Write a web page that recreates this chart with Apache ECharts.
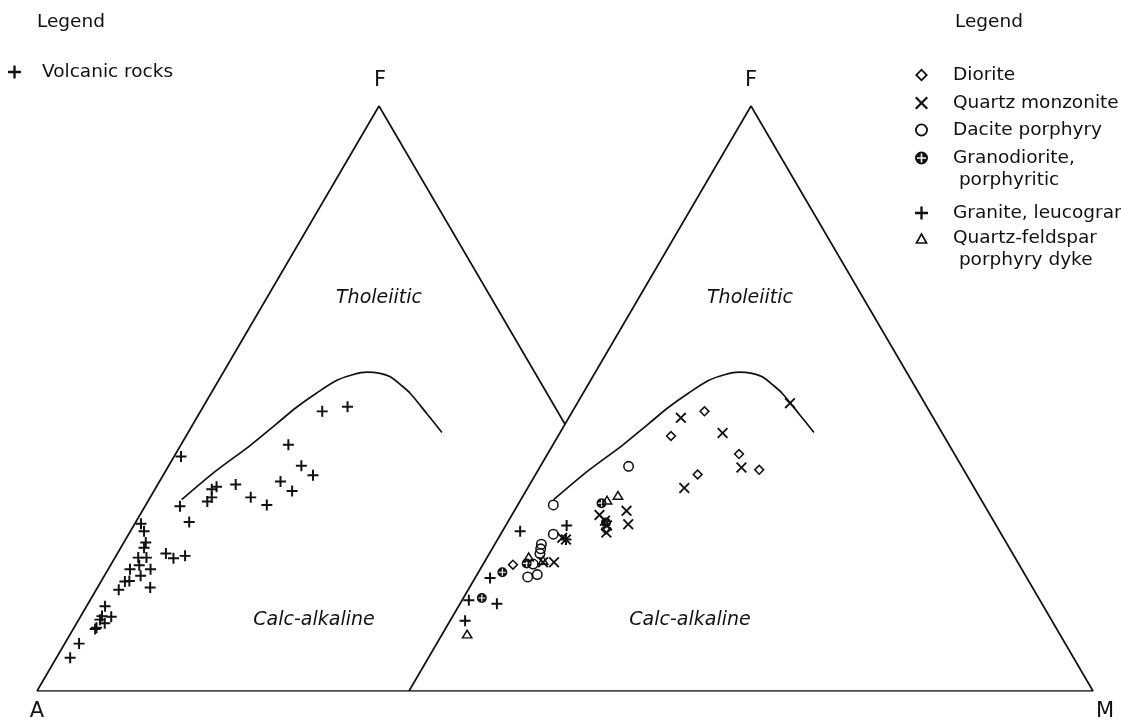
<!DOCTYPE html>
<html><head><meta charset="utf-8">
<script src="https://cdn.jsdelivr.net/npm/echarts@6/dist/echarts.min.js"></script>
<style>html,body{margin:0;background:#fff}#c{width:1121px;height:725px}</style>
</head><body><div id="c"></div>
<script>
// AFM ternary values, each point as [F, M] in percent (A = 100 - F - M)
const boundaryCurve = [[32.7,4.8],[37.7,7.4],[42.0,10.2],[45.7,12.2],[48.5,13.7],[50.9,15.4],[53.1,17.3],[54.1,19.2],[54.5,21.0],[54.3,23.0],[53.7,24.8],[52.4,26.9],[50.9,29.1],[47.4,33.3],[44.2,37.1]];
const volcanicRocks = [[40.1,1.0],[31.6,5.1],[28.9,7.8],[28.6,0.9],[27.3,2.0],[25.4,3.2],[24.5,3.4],[22.8,3.4],[22.8,4.6],[21.5,4.2],[20.8,3.2],[20.8,6.2],[19.7,5.3],[18.8,4.1],[18.7,3.5],[17.3,3.3],[17.7,7.7],[23.5,7.1],[22.7,8.6],[23.1,10.1],[14.5,2.7],[12.8,3.1],[12.7,4.5],[11.6,4.1],[10.8,3.3],[10.6,3.2],[12.2,3.1],[8.1,2.1],[5.7,2.0],[32.4,8.7],[33.1,9.0],[34.5,8.3],[34.9,8.8],[35.3,11.4],[33.1,14.7],[31.8,17.7],[35.8,17.7],[34.2,20.2],[42.1,15.7],[38.5,19.4],[36.9,21.9],[47.8,17.8],[48.6,21.1]];
const diorite = [[47.8,19.3],[43.6,16.5],[40.5,28.0],[37.8,32.3],[37.0,23.7],[21.6,4.4],[27.6,15.0]];
const quartzMonzonite = [[49.2,31.1],[46.7,16.4],[44.1,23.8],[38.2,29.5],[34.7,22.9],[30.8,16.4],[30.1,12.8],[28.5,17.8],[29.1,14.1],[27.1,15.3],[25.9,10.0],[26.2,9.3],[22.0,10.2],[22.0,8.6],[28.3,14.8]];
const dacitePorphyry = [[38.4,12.9],[31.8,5.2],[26.8,7.7],[25.1,6.8],[24.3,7.1],[23.5,7.4],[21.7,7.3],[19.5,7.6],[19.9,8.8]];
const granodiorite = [[32.1,12.1],[21.8,6.3],[20.3,3.5],[15.9,2.7],[28.8,14.4]];
const graniteLeucogranite = [[28.3,8.9],[27.3,2.6],[19.3,2.2],[15.5,1.0],[14.9,5.4],[12.0,2.2],[25.9,10.0]];
const quartzFeldsparDyke = [[32.7,12.6],[33.5,13.8],[23.0,6.0],[22.4,8.4],[9.8,3.6]];
// triangle outlines in [F, M]
const leftTriangle = [[0,0],[100,0],[45.6,54.4]];
const leftBase = [[0,0],[0,54.4]];
const rightTriangle = [[0,0],[100,0],[0,100],[0,0]];
// texts
const vertexLabels = ['A','F','M'];
const fieldLabels = ['Tholeiitic','Calc-alkaline'];
const legendTitle = 'Legend';
const leftLegendNames = ['Volcanic rocks'];
const rightLegendNames = ['Diorite','Quartz monzonite','Dacite porphyry','Granodiorite,\n porphyritic','Granite, leucogranite','Quartz-feldspar\n porphyry dyke'];

const INK = '#111';
const FONT = '"DejaVu Sans", sans-serif';
const LEG_FS = 18.5;
const SYM = {
  plus: 'path://M4.1,0H5.9V4.1H10V5.9H5.9V10H4.1V5.9H0V4.1H4.1Z',
  cross: 'path://M0,1.2L1.2,0L5,3.8L8.8,0L10,1.2L6.2,5L10,8.8L8.8,10L5,6.2L1.2,10L0,8.8L3.8,5Z',
  ring: 'path://M5,0A5,5,0,1,1,5,10A5,5,0,1,1,5,0ZM5,1.4A3.6,3.6,0,1,0,5,8.6A3.6,3.6,0,1,0,5,1.4Z',
  diamond: 'path://M5,0L10,5L5,10L0,5ZM5,2L2,5L5,8L8,5Z',
  oplus: 'path://M5,0A5,5,0,1,1,5,10A5,5,0,1,1,5,0ZM4.4,1.5V4.4H1.5V5.6H4.4V8.5H5.6V5.6H8.5V4.4H5.6V1.5Z',
  tri: 'path://M5,0L10,9L0,9ZM5,2.7L2.2,7.7L7.8,7.7Z'
};

function toXY(p){ return [p[1] + p[0] / 2, p[0]]; }
function ln(data, g, smooth){
  return {type:'line', data:data.map(toXY), xAxisIndex:g, yAxisIndex:g, symbol:'none', smooth:smooth, silent:true,
    lineStyle:{color:INK, width:1.7}, z:2};
}
function sc(name, data, g, symbol, size){
  return {type:'scatter', name:name, data:data.map(toXY), xAxisIndex:g, yAxisIndex:g, symbol:symbol, symbolSize:size,
    symbolKeepAspect:true, itemStyle:{color:INK, opacity:1}, emphasis:{disabled:true}, z:3};
}
function legendRow(name, icon, left, yc, padLeft){
  return {data:[{name:name, icon:icon}], left:left, top:yc - 11, orient:'vertical', padding:0,
    itemWidth:13, itemHeight:13, selectedMode:false,
    formatter: n => n.split('\n')[0],
    textStyle:{fontFamily:FONT, fontSize:LEG_FS, color:INK, lineHeight:22, padding:[0, 0, 0, padLeft]}};
}
function txt(text, x, y, size, align, italic){
  return {type:'text', x:x, y:y, silent:true,
    style:{text:text, fontFamily:FONT, fontSize:size, fontStyle: italic ? 'italic' : 'normal', fill:INK,
      align:align || 'left', verticalAlign:'middle'}};
}

const rightSeries = [
  sc(rightLegendNames[0], diorite, 1, SYM.diamond, 11),
  sc(rightLegendNames[1], quartzMonzonite, 1, SYM.cross, 11),
  sc(rightLegendNames[2], dacitePorphyry, 1, SYM.ring, 11),
  sc(rightLegendNames[3], granodiorite, 1, SYM.oplus, 10),
  sc(rightLegendNames[4], graniteLeucogranite, 1, SYM.plus, 11),
  sc(rightLegendNames[5], quartzFeldsparDyke, 1, SYM.tri, [12,11])
];
const icons = [SYM.diamond, SYM.cross, SYM.ring, SYM.oplus, SYM.plus, SYM.tri];
const rowY = [75, 103, 130, 158, 213, 238];
const secondLines = [];
rightLegendNames.forEach((n, i) => {
  const parts = n.split('\n');
  if (parts.length > 1) secondLines.push(txt(parts[1], 953, rowY[i] + 22, LEG_FS));
});

const option = {
  backgroundColor:'#fff',
  animation:false,
  grid:[{left:37, top:106, width:684, height:585}, {left:409, top:106, width:684, height:585}],
  xAxis:[{gridIndex:0, type:'value', min:0, max:100, show:false}, {gridIndex:1, type:'value', min:0, max:100, show:false}],
  yAxis:[{gridIndex:0, type:'value', min:0, max:100, show:false}, {gridIndex:1, type:'value', min:0, max:100, show:false}],
  legend:[legendRow(leftLegendNames[0], SYM.plus, 8, 72, 16)].concat(
    rightLegendNames.map((n, i) => legendRow(n, icons[i], 915, rowY[i], 20))),
  graphic:[
    txt(legendTitle, 37, 22, LEG_FS),
    txt(legendTitle, 955, 22, LEG_FS),
    txt(vertexLabels[1], 380, 81, 21, 'center'),
    txt(vertexLabels[1], 751, 81, 21, 'center'),
    txt(vertexLabels[0], 37, 712, 21, 'center'),
    txt(vertexLabels[2], 1105, 712, 21, 'center'),
    txt(fieldLabels[0], 379, 298, 19, 'center', true),
    txt(fieldLabels[0], 750, 298, 19, 'center', true),
    txt(fieldLabels[1], 314, 620, 19, 'center', true),
    txt(fieldLabels[1], 690, 620, 19, 'center', true)
  ].concat(secondLines),
  series:[
    ln(leftTriangle, 0, false),
    ln(leftBase, 0, false),
    ln(boundaryCurve, 0, 0.3),
    sc(leftLegendNames[0], volcanicRocks, 0, SYM.plus, 11),
    ln(rightTriangle, 1, false),
    ln(boundaryCurve, 1, 0.3)
  ].concat(rightSeries)
};
const chart = echarts.init(document.getElementById('c'), null, {renderer:'canvas'});
chart.setOption(option);
</script>
</body></html>
